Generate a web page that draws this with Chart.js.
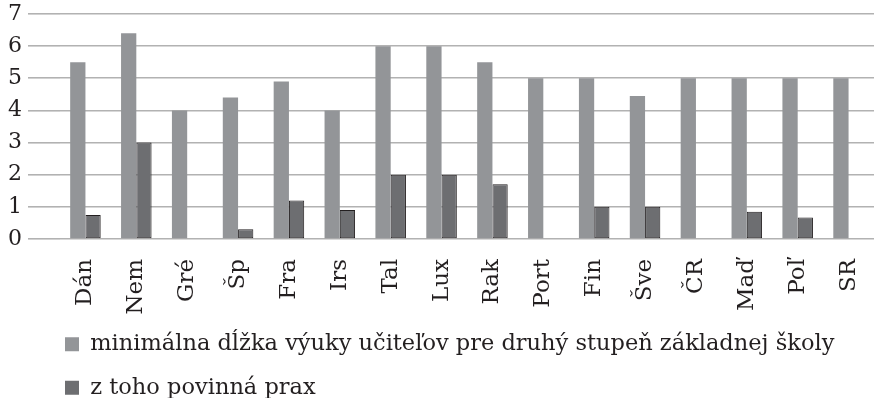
<!DOCTYPE html>
<html>
<head>
<meta charset="utf-8">
<script src="https://cdn.jsdelivr.net/npm/chart.js@4"></script>
<style>
  html, body { margin: 0; padding: 0; background: #fff; }
  #wrap { width: 874px; height: 398px; position: relative; }
</style>
</head>
<body>
<div id="wrap"><canvas id="c"></canvas></div>
<script>
// Countries (abbreviated) and durations in years
const categories = ['Dán', 'Nem', 'Gré', 'Šp', 'Fra', 'Irs', 'Tal', 'Lux', 'Rak', 'Port', 'Fin', 'Šve', 'ČR', 'Maď', 'Poľ', 'SR'];
const minDuration = [5.5, 6.4, 4, 4.4, 4.9, 4, 6, 6, 5.5, 5, 5, 4.45, 5, 5, 5, 5];
const practice = [0.75, 3, null, 0.3, 1.2, 0.9, 2, 2, 1.7, null, 1, 1, null, 0.85, 0.67, null];
const yTicks = [0, 1, 2, 3, 4, 5, 6, 7];
const seriesNames = [
  'minimálna dĺžka výuky učiteľov pre druhý stupeň základnej školy',
  'z toho povinná prax'
];

const FONT = "'DejaVu Serif', 'Liberation Serif', serif";
const TEXT = '#231f20';

// Moves the stacked legend under the plot, indented like the bars
const legendPlacement = {
  id: 'legendPlacement',
  afterLayout(chart) {
    const lg = chart.legend;
    if (!lg) return;
    lg.left += 44; lg.right += 44;
    lg.top -= 7;
  }
};

new Chart(document.getElementById('c'), {
  type: 'bar',
  data: {
    labels: categories,
    datasets: [
      {
        label: seriesNames[0],
        data: minDuration,
        backgroundColor: '#939598',
        borderWidth: 0
      },
      {
        label: seriesNames[1],
        data: practice,
        backgroundColor: '#6d6e71',
        borderColor: '#231f20',
        borderWidth: 1,
        borderSkipped: false
      }
    ]
  },
  options: {
    responsive: true,
    maintainAspectRatio: false,
    animation: false,
    events: [],
    datasets: { bar: { categoryPercentage: 0.6, barPercentage: 1.0 } },
    layout: { padding: { top: 14, left: 0, right: 0, bottom: 0 } },
    scales: {
      x: {
        grid: { display: false, drawTicks: true, tickLength: 20 },
        border: { display: false },
        ticks: {
          autoSkip: false,
          maxRotation: 90,
          minRotation: 90,
          padding: 0,
          color: TEXT,
          font: { family: FONT, size: 23, lineHeight: 1 }
        },
        afterFit(scale) { scale.height = 80; }
      },
      y: {
        min: yTicks[0],
        max: yTicks[yTicks.length - 1],
        afterBuildTicks(scale) { scale.ticks = yTicks.map(v => ({ value: v })); },
        grid: { color: '#b2b2b2', lineWidth: 1.6, tickLength: 32, drawTicks: true },
        border: { display: false },
        ticks: {
          autoSkip: false,
          padding: 6,
          color: TEXT,
          font: { family: FONT, size: 22, lineHeight: 0.7 }
        },
        afterFit(scale) { scale.width = 60; }
      }
    },
    plugins: {
      tooltip: { enabled: false },
      legend: {
        position: 'bottom',
        align: 'start',
        maxHeight: 79,
        labels: {
          boxWidth: 14,
          boxHeight: 14,
          padding: 21,
          color: TEXT,
          font: { family: FONT, size: 22.5 },
          generateLabels(chart) {
            const items = Chart.defaults.plugins.legend.labels.generateLabels(chart);
            items.forEach(it => { it.lineWidth = 0; it.strokeStyle = 'rgba(0,0,0,0)'; });
            return items;
          }
        }
      }
    }
  },
  plugins: [legendPlacement]
});
</script>
</body>
</html>
